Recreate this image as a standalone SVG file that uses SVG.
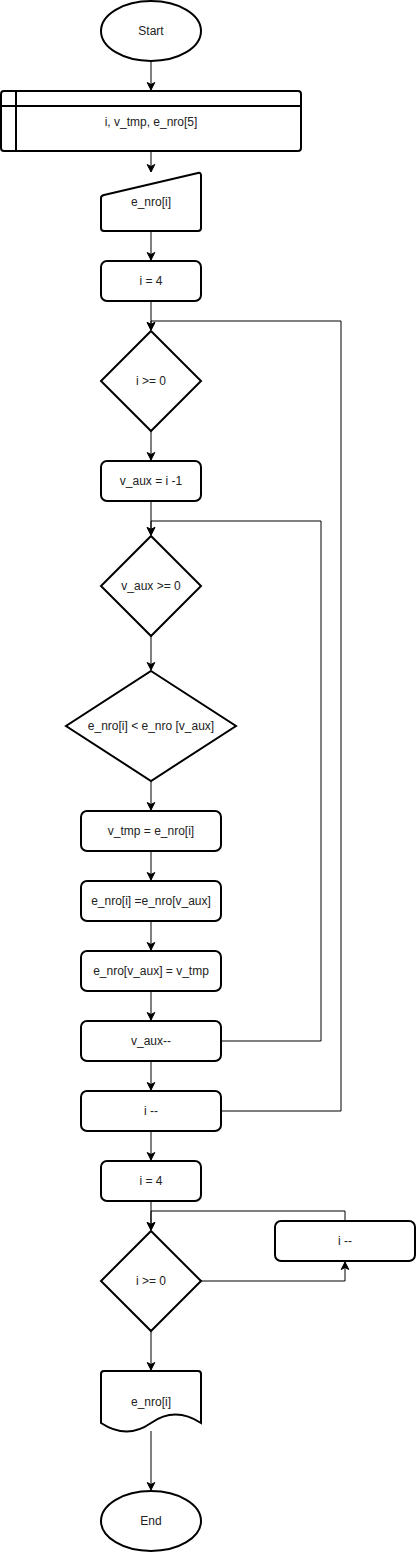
<svg xmlns="http://www.w3.org/2000/svg" width="416" height="1552" viewBox="0 0 416 1552">
<style>
.n{fill:#fff;stroke:#000;stroke-width:2}
.c{fill:none;stroke:#000;stroke-width:1}
.t{font-family:"Liberation Sans",Arial,sans-serif;font-size:12px;fill:#222;text-anchor:middle;dominant-baseline:central}
</style>
<defs>
<marker id="ah" markerUnits="userSpaceOnUse" markerWidth="10" markerHeight="10" viewBox="0 0 10 10" refX="8" refY="5" orient="auto">
<path d="M0.5,1.2 L8,5 L0.5,8.8 L2.5,5 Z" fill="#000" stroke="#000" stroke-width="1"/>
</marker>
</defs>
<rect width="416" height="1552" fill="#fff"/>
<g id="connectors">
<path class="c" d="M151,61 V90" marker-end="url(#ah)"/>
<path class="c" d="M151,151 V172" marker-end="url(#ah)"/>
<path class="c" d="M151,231 V260" marker-end="url(#ah)"/>
<path class="c" d="M151,301 V330" marker-end="url(#ah)"/>
<path class="c" d="M151,431 V460" marker-end="url(#ah)"/>
<path class="c" d="M151,501 V535" marker-end="url(#ah)"/>
<path class="c" d="M151,636 V670" marker-end="url(#ah)"/>
<path class="c" d="M151,781 V810" marker-end="url(#ah)"/>
<path class="c" d="M151,851 V880" marker-end="url(#ah)"/>
<path class="c" d="M151,921 V950" marker-end="url(#ah)"/>
<path class="c" d="M151,991 V1020" marker-end="url(#ah)"/>
<path class="c" d="M151,1061 V1090" marker-end="url(#ah)"/>
<path class="c" d="M151,1131 V1160" marker-end="url(#ah)"/>
<path class="c" d="M151,1201 V1230" marker-end="url(#ah)"/>
<path class="c" d="M151,1331 V1370" marker-end="url(#ah)"/>
<path class="c" d="M151,1431 V1490" marker-end="url(#ah)"/>
<path class="c" d="M221,1111 H341 V321 H151 V330" marker-end="url(#ah)"/>
<path class="c" d="M221,1041 H321 V521 H151 V535" marker-end="url(#ah)"/>
<path class="c" d="M201,1281 H345 V1262" marker-end="url(#ah)"/>
<path class="c" d="M345,1221 V1211 H151 V1230" marker-end="url(#ah)"/>
</g>
<g id="start"><ellipse class="n" cx="151" cy="31" rx="50" ry="30"/><text class="t" x="151" y="31">Start</text></g>
<g id="decl"><rect class="n" x="1" y="91" width="300" height="60" rx="3"/><path class="c" style="stroke-width:2" d="M16,91 V151 M1,106 H301"/><text class="t" x="151" y="122">i, v_tmp, e_nro[5]</text></g>
<g id="input"><path class="n" d="M104,195 L198,173 Q201,172.3 201,175.5 V228 Q201,231 198,231 H104 Q101,231 101,228 V198 Q101,195.7 104,195 Z"/><text class="t" x="151" y="202">e_nro[i]</text></g>
<g id="init1"><rect class="n" x="101" y="261" width="100" height="40" rx="6"/><text class="t" x="151" y="281">i = 4</text></g>
<g id="cond1"><path class="n" d="M151,331 L201,381 L151,431 L101,381 Z"/><text class="t" x="151" y="381">i &gt;= 0</text></g>
<g id="vaux"><rect class="n" x="101" y="461" width="100" height="40" rx="6"/><text class="t" x="151" y="481">v_aux = i -1</text></g>
<g id="cond2"><path class="n" d="M151,536 L201,586 L151,636 L101,586 Z"/><text class="t" x="151" y="586">v_aux &gt;= 0</text></g>
<g id="cond3"><path class="n" d="M151,671 L236,726 L151,781 L66,726 Z"/><text class="t" x="151" y="726">e_nro[i] &lt; e_nro [v_aux]</text></g>
<g id="swap1"><rect class="n" x="81" y="811" width="140" height="40" rx="6"/><text class="t" x="151" y="831">v_tmp = e_nro[i]</text></g>
<g id="swap2"><rect class="n" x="81" y="881" width="140" height="40" rx="6"/><text class="t" x="151" y="901">e_nro[i] =e_nro[v_aux]</text></g>
<g id="swap3"><rect class="n" x="81" y="951" width="140" height="40" rx="6"/><text class="t" x="151" y="971">e_nro[v_aux] = v_tmp</text></g>
<g id="vauxdec"><rect class="n" x="81" y="1021" width="140" height="40" rx="6"/><text class="t" x="151" y="1041">v_aux--</text></g>
<g id="idec1"><rect class="n" x="81" y="1091" width="140" height="40" rx="6"/><text class="t" x="151" y="1111">i --</text></g>
<g id="init2"><rect class="n" x="101" y="1161" width="100" height="40" rx="6"/><text class="t" x="151" y="1181">i = 4</text></g>
<g id="cond4"><path class="n" d="M151,1231 L201,1281 L151,1331 L101,1281 Z"/><text class="t" x="151" y="1281">i &gt;= 0</text></g>
<g id="idec2"><rect class="n" x="275" y="1221" width="140" height="40" rx="6"/><text class="t" x="345" y="1241">i --</text></g>
<g id="output"><path class="n" d="M104,1371 H198 Q201,1371 201,1374 V1423 Q175,1406 151,1423 T101,1423 V1374 Q101,1371 104,1371 Z"/><text class="t" x="151" y="1402">e_nro[i]</text></g>
<g id="end"><ellipse class="n" cx="151" cy="1521" rx="50" ry="30"/><text class="t" x="151" y="1521">End</text></g>
</svg>
